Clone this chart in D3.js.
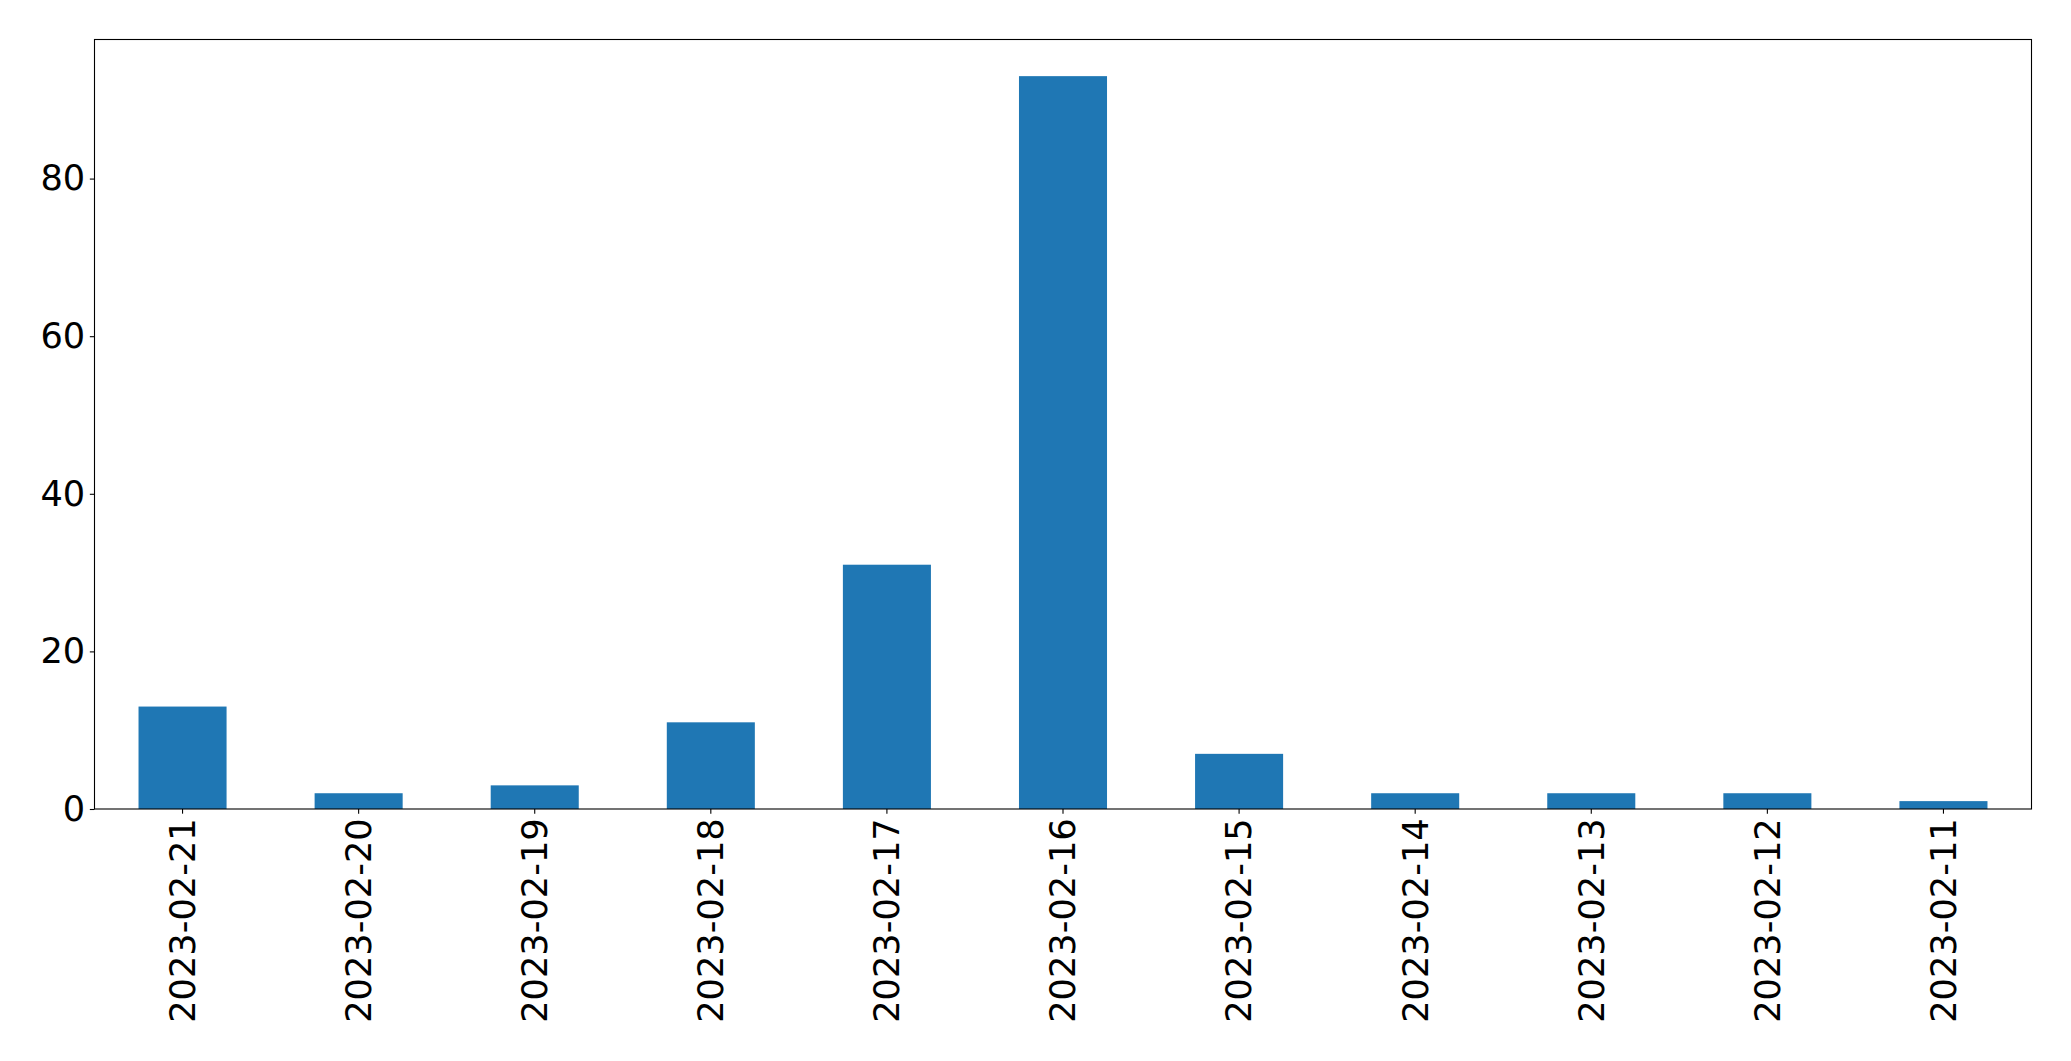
<!DOCTYPE html>
<html>
<head>
<meta charset="utf-8">
<script src="https://cdn.jsdelivr.net/npm/d3@7"></script>
<style>
html,body{margin:0;padding:0;background:#fff;}
svg{display:block;}
text{font-family:"DejaVu Sans",sans-serif;}
</style>
</head>
<body>
<script>
const categories = ["2023-02-21","2023-02-20","2023-02-19","2023-02-18","2023-02-17","2023-02-16","2023-02-15","2023-02-14","2023-02-13","2023-02-12","2023-02-11"];
const values = [13, 2, 3, 11, 31, 93, 7, 2, 2, 2, 1];
const yTicks = [0, 20, 40, 60, 80];

(function () {
const W = 2071, H = 1061;
const mLeft = 94.5, mRight = 2031.5, mTop = 39.5, mBottom = 809;

const svg = d3.select("body").append("svg").attr("width", W).attr("height", H);

const x = d3.scaleBand().domain(categories).range([mLeft, mRight]).paddingInner(0.5).paddingOuter(0.25);
const y = d3.scaleLinear().domain([0, d3.max(values) * 1.05]).range([mBottom, mTop]);

svg.append("g").selectAll("rect").data(values).join("rect")
  .attr("x", (d, i) => x(categories[i]))
  .attr("y", d => y(d))
  .attr("width", x.bandwidth())
  .attr("height", d => y(0) - y(d))
  .attr("fill", "#1f77b4");

const fs = 35.2;

const yAxis = svg.append("g").attr("transform", `translate(${mLeft},0)`)
  .call(d3.axisLeft(y).tickValues(yTicks).tickSize(4.67).tickPadding(4.67).tickFormat(d3.format("d")));
yAxis.select(".domain").remove();
yAxis.selectAll("line").attr("stroke", "#000").attr("stroke-width", 1.1);
yAxis.selectAll("text").attr("font-size", fs).attr("fill", "#000").attr("font-family", "DejaVu Sans");

const xAxis = svg.append("g").attr("transform", `translate(0,${mBottom})`)
  .call(d3.axisBottom(x).tickSize(4.67).tickPadding(4.67));
xAxis.select(".domain").remove();
xAxis.selectAll("line").attr("stroke", "#000").attr("stroke-width", 1.1);
xAxis.selectAll("text")
  .attr("font-size", fs).attr("fill", "#000").attr("font-family", "DejaVu Sans")
  .attr("text-anchor", "end")
  .attr("transform", "rotate(-90)")
  .attr("x", -9.34)
  .attr("y", 0)
  .attr("dy", "0.35em");

svg.append("rect")
  .attr("x", mLeft).attr("y", mTop)
  .attr("width", mRight - mLeft).attr("height", mBottom - mTop)
  .attr("fill", "none").attr("stroke", "#000").attr("stroke-width", 1.1);
})();
</script>
</body>
</html>
